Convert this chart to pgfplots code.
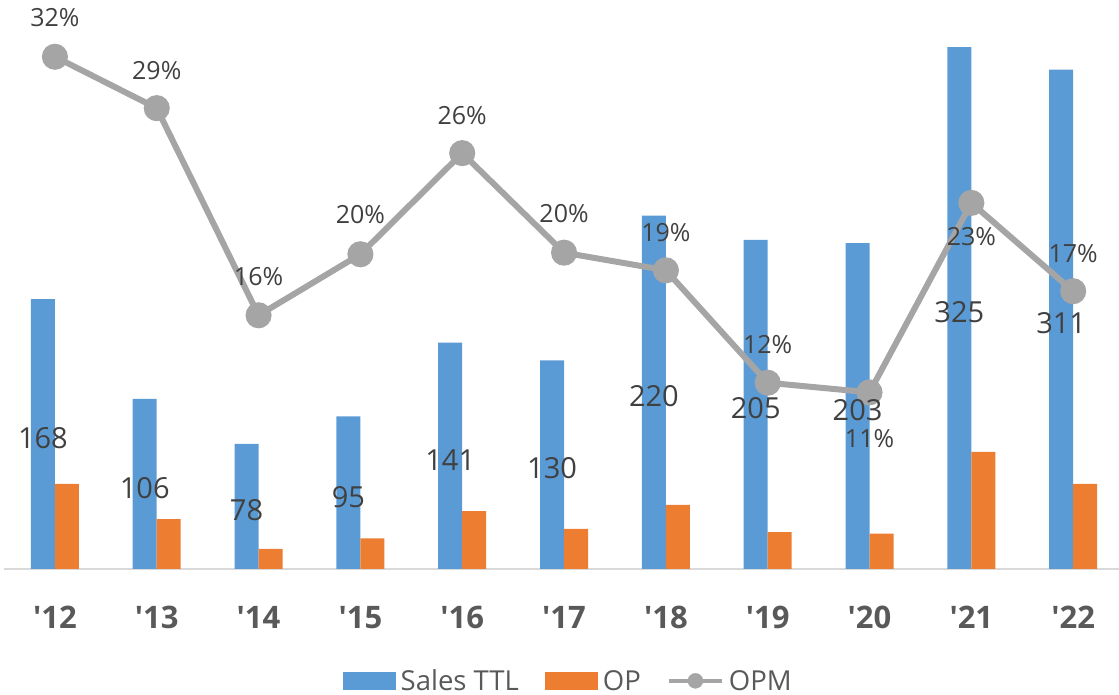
\documentclass[border=0pt]{standalone}
\usepackage{pgfplots}
\pgfplotsset{compat=1.18}
\usepackage{fontspec}
\setmainfont{Open Sans}
\definecolor{cSales}{HTML}{5B9BD5}
\definecolor{cOP}{HTML}{ED7D31}
\definecolor{cOPM}{HTML}{A5A5A5}
\definecolor{cText}{HTML}{404040}
\definecolor{cTick}{HTML}{595959}
\definecolor{cAxis}{HTML}{D9D9D9}

% x = year index ('12 = 0), sales / op in units, opm in %, off = label shift in pt
\pgfplotstableread{
x sales op   opm  lab off
0 168   53   31.9 32  39
1 106   31   28.7 29  38
2 78    12.5 15.8 16  39
3 95    19   19.6 20  40
4 141   36   25.9 26  38
5 130   25   19.7 20  39
6 220   40   18.6 19  38
7 205   23   11.6 12  38
8 203   22   11.0 11  -46
9 325   73   22.8 23  -34
10 311  53   17.3 17  38
}\data

\begin{document}
\begin{tikzpicture}
\path[use as bounding box] (0pt,0pt) rectangle (1119pt,695pt);
\pgfplotsset{
  base/.style={scale only axis, width=1115pt, height=562pt,
    at={(4pt,126pt)}, anchor=south west,
    xmin=-0.5, xmax=10.45, ymin=0,
    /pgf/number format/assume math mode=true},
}
% bars
\begin{axis}[base, ymax=350,
    axis y line=none, axis x line*=bottom,
    x axis line style={cAxis, line width=1.5pt},
    ytick=\empty,
    xtick={0,...,10},
    xticklabels={\textquotesingle12,\textquotesingle13,\textquotesingle14,\textquotesingle15,\textquotesingle16,\textquotesingle17,\textquotesingle18,\textquotesingle19,\textquotesingle20,\textquotesingle21,\textquotesingle22},
    xtick style={draw=none},
    xticklabel style={font=\fontsize{31}{31}\selectfont\bfseries, text=cTick, anchor=center, yshift=-44pt},
    ybar, bar width=24pt,
    legend columns=3,
    legend style={at={(0.506,-0.199)}, anchor=center, draw=none, fill=none,
      font=\fontsize{27.5}{27.5}\selectfont, text=cTick,
      /tikz/every odd column/.append style={column sep=3pt},
      /tikz/every even column/.append style={column sep=24pt}},
  ]
\addplot[fill=cSales, draw=none, bar shift=-12pt,
  legend image code/.code={\fill[cSales] (0pt,-9pt) rectangle (53pt,9pt);}]
  table[x=x, y=sales]{\data};
\addplot[fill=cOP, draw=none, bar shift=12pt,
  legend image code/.code={\fill[cOP] (0pt,-9pt) rectangle (53pt,9pt);}]
  table[x=x, y=op]{\data};
\addlegendimage{legend image code/.code={
  \draw[cOPM, line width=4pt] (0pt,0pt) -- (53pt,0pt);
  \fill[cOPM] (26.5pt,0pt) circle (7.5pt);}}
\legend{Sales TTL, OP, OPM}
\end{axis}

% OPM line on its own scale
\begin{axis}[base, ymax=35, hide axis]
\addplot[cOPM, line width=6pt, mark=*, mark size=10pt,
  mark options={draw=none, fill=cOPM},
  point meta=explicit symbolic,
  nodes near coords={\pgfplotspointmeta\%},
  visualization depends on={\thisrow{off} \as \off},
  every node near coord/.append style={anchor=center, yshift=\off pt,
    font=\fontsize{25}{25}\selectfont, text=cText}]
  table[x=x, y=opm, meta=lab]{\data};
\end{axis}

% sales labels, drawn on top
\begin{axis}[base, ymax=350, hide axis, ybar, bar width=24pt]
\addplot[draw=none, fill=none, bar shift=-12pt,
  nodes near coords,
  visualization depends on={rawy \as \rawy},
  every node near coord/.append style={anchor=center,
    shift={(axis direction cs:0,-\rawy/2)}, yshift=-4pt,
    font=\fontsize{29}{29}\selectfont, text=cText}]
  table[x=x, y=sales]{\data};
\end{axis}
\end{tikzpicture}
\end{document}
